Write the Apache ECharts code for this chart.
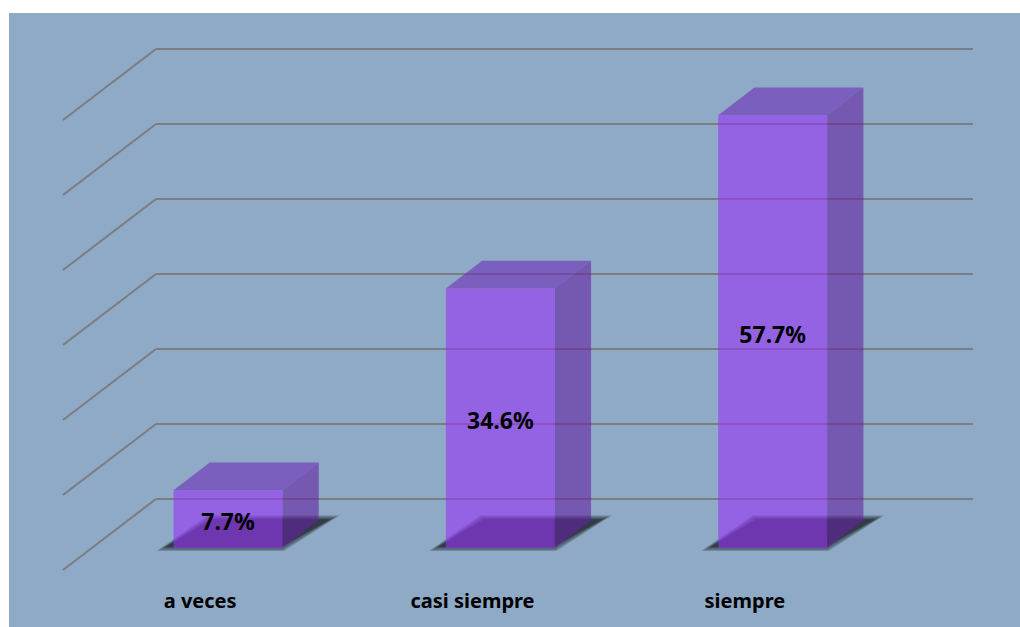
<!DOCTYPE html>
<html>
<head>
<meta charset="utf-8">
<script src="https://cdn.jsdelivr.net/npm/echarts@6/dist/echarts.min.js"></script>
<style>
  html, body { margin: 0; padding: 0; background: #ffffff; }
  #panel { position: absolute; left: 9px; top: 13px; width: 1011px; height: 614px; background: #8eaac6; }
  #chart { position: absolute; left: 0; top: 0; width: 1020px; height: 627px; }
</style>
</head>
<body>
<div id="panel"></div>
<div id="chart"></div>
<script>
// ---- data ----
const categories = ['a veces', 'casi siempre', 'siempre'];
const values = [7.7, 34.6, 57.7];
const yTicks = [0, 10, 20, 30, 40, 50, 60];

// ---- 3D projection style (pixels) ----
const DX = -93, DY = 71;       // floor depth vector (back -> front)
const FRONT = 0.69, BACK = 0.30; // depth fractions of bar faces
const BAR_W = 0.4;               // bar width as fraction of band

const chart = echarts.init(document.getElementById('chart'), null, { renderer: 'svg' });

function shadowLayers(FL, FR, BR, BL) {
  const out = [];
  const ks = [9, 7, 5, 3, 1];
  ks.forEach(function (k) {
    out.push({
      type: 'polygon',
      shape: { points: [
        [FL[0] - k, FL[1] + k * 0.45], [FR[0] + k * 0.4, FR[1] + k * 0.45],
        [BR[0] + k, BR[1] - k * 0.45], [BL[0] - k * 0.4, BL[1] - k * 0.45]] },
      style: { fill: 'rgba(38,44,52,0.22)' }
    });
  });
  out.push({ type: 'polygon', shape: { points: [FL, FR, BR, BL] },
             style: { fill: 'rgba(38,44,52,0.55)' } });
  return out;
}

function renderBar(params, api) {
  const ci = api.value(0);
  const v = api.value(1);
  const base = api.coord([ci, 0]);
  const top = api.coord([ci, v]);
  const bw = api.size([1, 0])[0] * BAR_W;
  const cx = base[0];
  const L = cx - bw / 2 + DX * FRONT, R = L + bw;
  const L2 = cx - bw / 2 + DX * BACK, R2 = L2 + bw;
  const ybF = base[1] + DY * FRONT, ytF = top[1] + DY * FRONT;
  const ybB = base[1] + DY * BACK, ytB = top[1] + DY * BACK;
  const shadow = shadowLayers([L - 8, ybF - 1], [R - 2, ybF - 1], [R2 + 12, ybB - 1], [L2 + 2, ybB - 1]);
  return {
    type: 'group',
    children: shadow.concat([
      { type: 'polygon',
        shape: { points: [[R, ytF], [R2, ytB], [R2, ybB], [R, ybF]] },
        style: { fill: 'rgba(100,33,161,0.6)' } },
      { type: 'polygon',
        shape: { points: [[L, ytF], [R, ytF], [R2, ytB], [L2, ytB]] },
        style: { fill: 'rgba(110,45,187,0.6)' } },
      { type: 'polygon',
        shape: { points: [[L, ytF], [R, ytF], [R, ybF], [L, ybF]] },
        style: { fill: 'rgba(150,52,246,0.6)' } },
      { type: 'text',
        x: (L + R) / 2, y: (ytF + ybF) / 2 + 2,
        style: { text: v.toFixed(1) + '%', fill: '#000000',
                 font: 'bold 23px "Noto Sans"', align: 'center', verticalAlign: 'middle' } }
    ])
  };
}

function renderDiag(params, api) {
  const y = api.coord([0, api.value(1)])[1];
  const x0 = params.coordSys.x;
  return {
    type: 'line',
    shape: { x1: x0, y1: y, x2: x0 + DX, y2: y + DY },
    style: { stroke: '#7b7d80', lineWidth: 2 }
  };
}

chart.setOption({
  animation: false,
  backgroundColor: 'transparent',
  grid: { left: 156, right: 47, top: 49, bottom: 128 },
  xAxis: {
    type: 'category',
    data: categories,
    axisLine: { show: false },
    axisTick: { show: false },
    axisLabel: {
      margin: 91,
      padding: [0, 184, 0, 0],
      color: '#000000',
      fontFamily: 'Noto Sans',
      fontWeight: 'bold',
      fontSize: 20
    }
  },
  yAxis: {
    type: 'value',
    min: 0, max: 60, interval: 10,
    axisLine: { show: false },
    axisTick: { show: false },
    axisLabel: { show: false },
    splitLine: { lineStyle: { color: '#7b7d80', width: 2 } }
  },
  series: [
    { type: 'custom', renderItem: renderDiag, data: yTicks.map(v => [0, v]),
      encode: { x: 0, y: 1 }, z: 1, silent: true },
    { type: 'custom', renderItem: renderBar, data: values.map((v, i) => [i, v]),
      encode: { x: 0, y: 1 }, z: 3 }
  ]
});
</script>
</body>
</html>
